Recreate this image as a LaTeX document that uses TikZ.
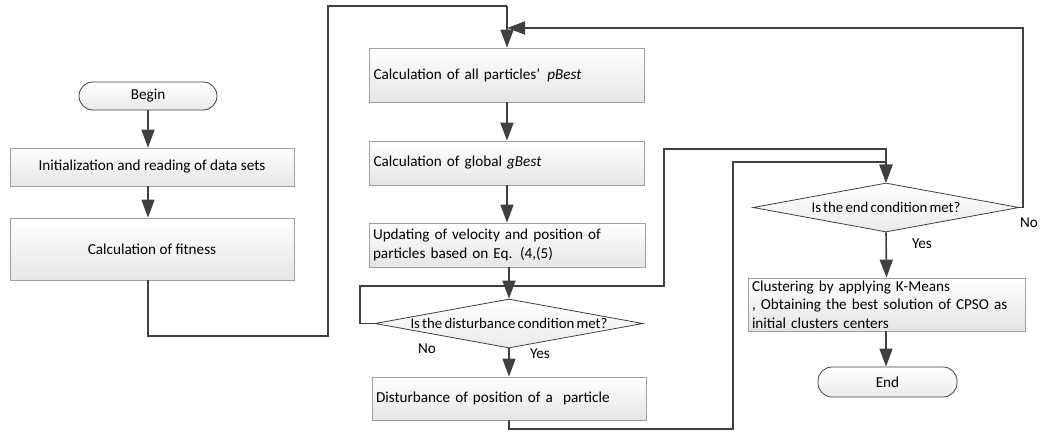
\documentclass[tikz,border=0pt]{standalone}
\usepackage{fontspec}
\setmainfont{Carlito}
\usetikzlibrary{shapes.geometric,arrows.meta}
\definecolor{ln}{HTML}{404040}
\definecolor{bd}{HTML}{A0A0A0}
\newcommand\mytightsp{\spaceskip=2.2pt plus 0.5pt minus 0.5pt\relax}
\tikzset{
  every node/.style={font=\fontsize{15.2pt}{18.5pt}\selectfont},
  boxc/.style={draw=bd, line width=0.8pt, top color=white, bottom color=black!10, minimum height=#1, inner sep=0pt, align=center},
  boxl/.style n args={2}{draw=bd, line width=0.8pt, top color=white, bottom color=black!10, minimum width=#1, minimum height=#2, inner xsep=4pt, inner ysep=0pt, text width=#1-8pt, align=left},
  term/.style={draw=ln, line width=0.8pt, rounded corners=14pt, top color=white, bottom color=black!8, inner sep=0pt},
  dia/.style={diamond, draw=ln, line width=0.8pt, top color=white, bottom color=black!8, inner sep=0pt},
  diatext/.style={inner sep=0pt, font=\fontsize{14.8pt}{18pt}\selectfont\mytightsp},
  conn/.style={draw=ln, line width=1.6pt},
  arr/.style={conn, -{Triangle[length=18pt,width=13pt]}},
  lab/.style={inner sep=0pt}
}
\begin{document}
\begin{tikzpicture}[x=1pt,y=-1pt]
\useasboundingbox (0,0) rectangle (1040,441);
% nodes
\node[term, minimum width=138pt, minimum height=28pt] (begin) at (148,96) {Begin};
\node[boxc=38pt, minimum width=284pt] (init) at (152,167) {Initialization and reading of data sets};
\node[boxc=62pt, minimum width=284pt] (fit) at (152,249) {Calculation of fitness};
\node[boxl={275pt}{54pt}] (pbest) at (507,75) {Calculation of all particles’\hspace{7pt}\textit{pBest}};
\node[boxl={275pt}{44pt}] (gbest) at (507,163) {Calculation of global \textit{gBest}};
\node[boxl={276pt}{44pt}] (upd) at (507,245) {Updating of velocity and position of\\particles based on Eq. (4,(5)};
\node[dia, minimum width=268pt, minimum height=49pt] (d1) at (509,323.5) {};
\node[diatext] (d1t) at (d1) {Is the disturbance condition met?};
\node[boxl={274pt}{43pt}] (dist) at (509,398.5) {Disturbance of position of a\ \ particle};
\node[dia, minimum width=266pt, minimum height=49pt] (d2) at (886,207.5) {};
\node[diatext] (d2t) at (d2) {Is the end condition met?};
\node[boxl={277pt}{53pt}] (clu) at (886.5,304.5) {Clustering by applying K-Means\\, Obtaining the best solution of CPSO as\\initial clusters centers};
\node[term, minimum width=139pt, minimum height=30pt] (end) at (887.5,382) {End};
% labels
\node[lab] (no1) at (427,349) {No};
\node[lab] (yes1) at (540,354) {Yes};
\node[lab] (no2) at (1029,223) {No};
\node[lab] (yes2) at (922,244) {Yes};
% bend coordinates
\coordinate (k1) at (328,336);
\coordinate (k2) at (507,6);
\coordinate (k3) at (360,286);
\coordinate (k4) at (664,149);
\coordinate (k5) at (733,429);
\coordinate (k6) at (886,162);
\coordinate (k7) at (1023,28);
% connectors
\draw[arr] (begin.south) -- (begin.south |- init.north);
\draw[arr] (begin.south |- init.south) -- (begin.south |- fit.north);
\draw[conn] (begin.south |- fit.south) |- (k1) |- (k2);
\draw[arr] (k2) -- (pbest.north);
\draw[arr] (pbest.south) -- (gbest.north);
\draw[arr] (gbest.south) -- (upd.north);
\draw[arr] (d1.north |- upd.south) -- (d1.north);
\draw[arr] (d1.west) -| (k3) -| (k4) -| (d2.north);
\draw[arr] (d1.south) -- (dist.north);
\draw[arr] (d1.south |- dist.south) |- (k5) |- (k6) -- (d2.north);
\draw[arr] (d2.south) -- (clu.north);
\draw[arr] (clu.south -| d2.south) -- (end.north -| d2.south);
\draw[arr] (d2.east) -| (k7) -- (k7 -| pbest.north);
\end{tikzpicture}
\end{document}
